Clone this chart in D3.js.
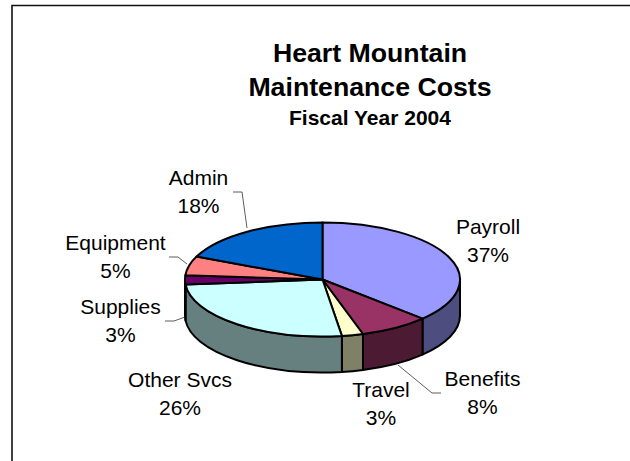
<!DOCTYPE html>
<html><head><meta charset="utf-8">
<script src="https://cdnjs.cloudflare.com/ajax/libs/d3/7.8.5/d3.min.js"></script>
<style>html,body{margin:0;padding:0;background:#fff}svg{display:block}text{font-family:"Liberation Sans",Arial,sans-serif;fill:#000}</style>
</head><body><svg id="c" width="630" height="461"></svg>
<script>
const categories = ["Payroll","Benefits","Travel","Other Svcs","Supplies","Equipment","Admin"];
const shares = [37.0,8.2,2.5,25.8,2.6,5.4,18.4];
const topColors = ["#9999FF","#993366","#FFFFCC","#CCFFFF","#660066","#FF8080","#0066CC"];
const sideColors = ["#4D4D80","#4D1A33","#808066","#668080","#330033","#804040","#003366"];
const titleLines = ["Heart Mountain","Maintenance Costs"];
const subtitle = "Fiscal Year 2004";

// layout
const cx=322.5, cy=279.5, rx=137.5, ry=57, depth=36;
const labelAt = [[488,234],[482.5,386],[381,397],[180,387],[120.5,314],[115.5,250],[198.5,185]];
const leaders = {
  Benefits:[[398,365],[432,393],[441,393]],
  Supplies:[[165,321],[174,321],[185,317]],
  Equipment:[[169,257],[178,257],[187,264]],
  Admin:[[233,192],[242,192],[247,228]]
};

const svg=d3.select("#c");
svg.append("path").attr("d","M12,461V5.5H630").attr("fill","none").attr("stroke","#111").attr("stroke-width",1.6);

const arcs=d3.pie().sort(null).value(d=>d)(shares);
const X=d3.scaleLinear().domain([-1,1]).range([cx-rx,cx+rx]);
const Y=d3.scaleLinear().domain([-1,1]).range([cy+ry,cy-ry]);
const pt=a=>[X(Math.sin(a)),Y(Math.cos(a))];
const bw=2;

// side wall (front half only)
const g=svg.append("g").attr("stroke","#000").attr("stroke-width",bw).attr("stroke-linejoin","round");
arcs.forEach((d,i)=>{
  const a=Math.max(d.startAngle,Math.PI/2), b=Math.min(d.endAngle,3*Math.PI/2);
  if(b<=a) return;
  const p=pt(a), q=pt(b);
  const lg=(b-a)>Math.PI?1:0;
  g.append("path").attr("fill",sideColors[i]).attr("d",
    `M${p[0]},${p[1]}A${rx},${ry} 0 ${lg} 1 ${q[0]},${q[1]}L${q[0]},${q[1]+depth}A${rx},${ry} 0 ${lg} 0 ${p[0]},${p[1]+depth}Z`);
});
// top slices
arcs.forEach((d,i)=>{
  const p=pt(d.startAngle), q=pt(d.endAngle);
  const lg=(d.endAngle-d.startAngle)>Math.PI?1:0;
  g.append("path").attr("fill",topColors[i]).attr("d",
    `M${cx},${cy}L${p[0]},${p[1]}A${rx},${ry} 0 ${lg} 1 ${q[0]},${q[1]}Z`);
});

// leaders
const line=d3.line();
Object.values(leaders).forEach(l=>svg.append("path").attr("d",line(l)).attr("fill","none").attr("stroke","#333").attr("stroke-width",0.8));

// labels
categories.forEach((c,i)=>{
  const [x,y]=labelAt[i];
  const t=svg.append("text").attr("text-anchor","middle").attr("font-size",21);
  t.append("tspan").attr("x",x).attr("y",y).text(c);
  t.append("tspan").attr("x",x).attr("y",y+27.5).text(Math.round(shares[i])+"%");
});

// title
titleLines.forEach((s,i)=>svg.append("text").attr("x",370).attr("y",62+i*33.5).attr("text-anchor","middle")
  .attr("font-size",26.7).attr("font-weight","bold").text(s));
svg.append("text").attr("x",370).attr("y",125).attr("text-anchor","middle").attr("font-size",21).attr("font-weight","bold").text(subtitle);
</script></body></html>
